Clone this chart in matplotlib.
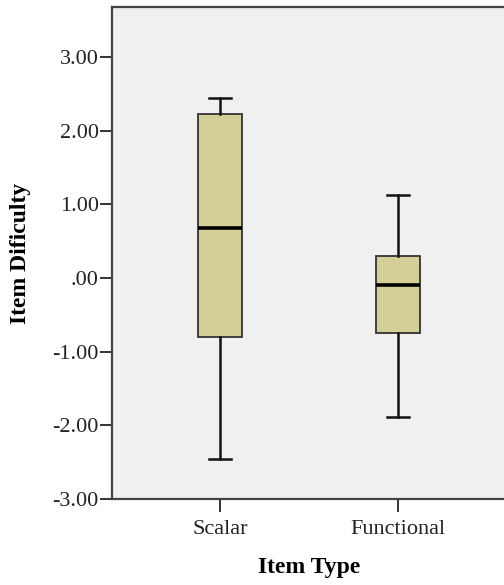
import matplotlib
matplotlib.use("Agg", force=True)
import matplotlib.pyplot as plt

categories = ["Scalar", "Functional"]
whisker_low = [-2.46, -1.89]
q1 = [-0.80, -0.75]
median = [0.68, -0.10]
q3 = [2.23, 0.30]
whisker_high = [2.44, 1.13]

plt.rcParams["font.family"] = ["Liberation Serif", "DejaVu Serif"]

fig = plt.figure(figsize=(5.04, 5.85), dpi=100)
ax = fig.add_axes([112 / 504, 86 / 585, 394 / 504, 492 / 585])
ax.set_facecolor("#F0F0F0")

stats = []
for i, name in enumerate(categories):
    stats.append({
        "label": name,
        "whislo": whisker_low[i],
        "q1": q1[i],
        "med": median[i],
        "q3": q3[i],
        "whishi": whisker_high[i],
        "fliers": [],
    })

ax.bxp(
    stats,
    positions=[1, 2],
    widths=0.25,
    patch_artist=True,
    showfliers=False,
    boxprops=dict(facecolor="#D3CF97", edgecolor="#333333", linewidth=1.3),
    medianprops=dict(color="black", linewidth=2.6),
    whiskerprops=dict(color="#111111", linewidth=1.8),
    capprops=dict(color="#111111", linewidth=1.8),
    capwidths=0.125,
)

ax.set_xlim(0.393, 2.607)
ax.set_ylim(-3.0, 3.68)
ax.set_yticks([-3, -2, -1, 0, 1, 2, 3])
ax.set_yticklabels(["-3.00", "-2.00", "-1.00", ".00", "1.00", "2.00", "3.00"])
ax.set_xticks([1, 2])
ax.set_xticklabels(categories)

for side in ["left", "bottom", "top", "right"]:
    ax.spines[side].set_color("#444444")
    ax.spines[side].set_linewidth(1.6)

ax.tick_params(axis="both", direction="out", length=9, width=1.4,
               color="#333333", labelsize=16, labelcolor="#222222", pad=0.5)
ax.tick_params(axis="x", pad=6.3)

ax.set_xlabel("Item Type", fontsize=17, fontweight="bold", labelpad=12.5)
ax.set_ylabel("Item Dificulty", fontsize=17, fontweight="bold", labelpad=15.5)

fig.savefig("out.png", dpi=100)
